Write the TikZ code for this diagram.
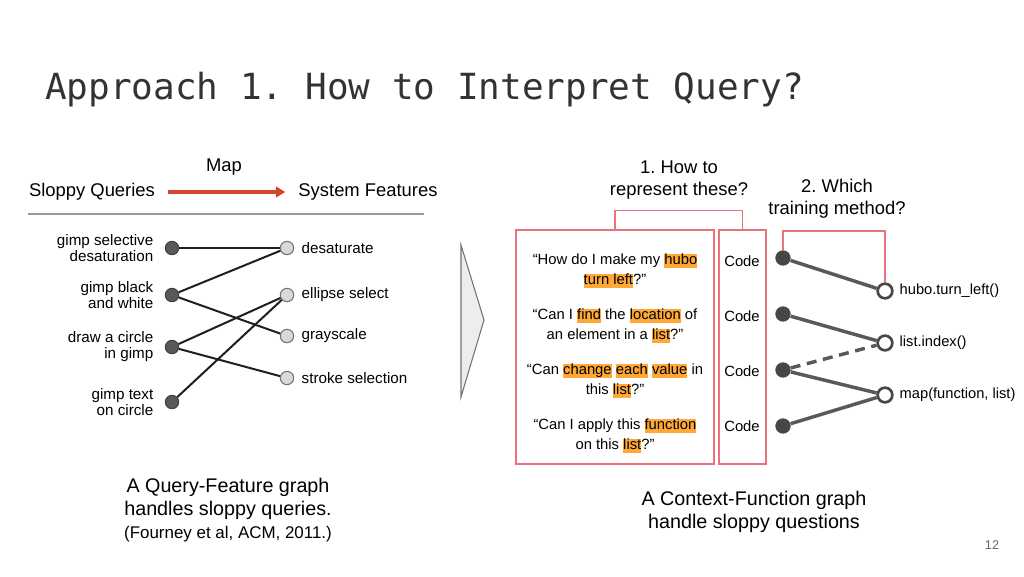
\documentclass[tikz,border=0pt]{standalone}
\usepackage{fontspec}
\setmainfont{Liberation Sans}
\newfontfamily\titlefont{DejaVu Sans Mono}
\usetikzlibrary{arrows.meta}
\frenchspacing

\definecolor{mapred}{HTML}{D2462A}
\definecolor{boxred}{HTML}{E8737C}
\definecolor{hlorange}{HTML}{FFA838}
\newcommand{\hl}[1]{{\setlength{\fboxsep}{0pt}\colorbox{hlorange}{\rule[-2.6pt]{0pt}{10.6pt}#1}}}

\tikzset{
  qdot/.style={circle,draw=black!75,fill=black!65,line width=0.8pt,minimum size=10pt,inner sep=0pt},
  fdot/.style={circle,draw=black!55,fill=black!15,line width=0.8pt,minimum size=10pt,inner sep=0pt},
  cdot/.style={circle,fill=black!72,minimum size=11.5pt,inner sep=0pt},
  odot/.style={circle,draw=black!72,fill=white,line width=2pt,minimum size=11pt,inner sep=0pt},
  qedge/.style={black!88,line width=1.5pt},
  fedge/.style={black!65,line width=2.6pt},
  redbox/.style={draw=boxred,line width=0.9pt,inner sep=0pt},
  small/.style={font=\fontsize{11.4}{12}\selectfont},
  qtext/.style={font=\fontsize{11.1}{15}\selectfont,align=center},
  head/.style={font=\fontsize{13.8}{16.5}\selectfont,align=center},
  caption/.style={font=\fontsize{14.8}{17.5}\selectfont,align=center}
}

\begin{document}
\begin{tikzpicture}[x=0.75pt,y=-0.75pt]
\useasboundingbox (0,0) rectangle (1024,576);

\node[anchor=base west,inner sep=0pt,text=black!80,font=\titlefont\fontsize{27}{30}\selectfont] (title) at (45,99) {Approach 1. How to Interpret Query?};

% left: query-feature graph
\node[head] (map) at (224,167) {Map};
\node[head] (sloppy) at (92,192) {Sloppy Queries};
\node[head] (sysfeat) at (368,192) {System Features};
\draw[mapred,line width=2.3pt,-{Triangle[length=7pt,width=8pt]}] ([xshift=6.4pt]sloppy.east) -- ([xshift=-6.4pt]sysfeat.west);
\draw[black!40,line width=0.8pt] (28,214) -- (424,214);

\node[qdot] (q1) at (172,248) {};
\node[qdot] (q2) at (172,295) {};
\node[qdot] (q3) at (172,347) {};
\node[qdot] (q4) at (172,402) {};
\node[small,anchor=east,align=right] at (158,248) {gimp selective\\desaturation};
\node[small,anchor=east,align=right] at (158,295) {gimp black\\and white};
\node[small,anchor=east,align=right] at (158,347) {draw a circle\\in gimp};
\node[small,anchor=east,align=right] at (158,402) {gimp text\\on circle};

\node[fdot] (f1) at (287,248) {};
\node[fdot] (f2) at (287,295) {};
\node[fdot] (f3) at (287,336) {};
\node[fdot] (f4) at (287,378) {};
\node[small,anchor=west] at (297,248) {desaturate};
\node[small,anchor=west] at (297,295) {ellipse select};
\node[small,anchor=west] at (297,336) {grayscale};
\node[small,anchor=west] at (297,378) {stroke selection};

\draw[qedge] (q1) -- (f1);
\draw[qedge] (q2) -- (f1);
\draw[qedge] (q2) -- (f3);
\draw[qedge] (q3) -- (f2);
\draw[qedge] (q3) -- (f4);
\draw[qedge] (q4) -- (f2);

\node[caption] (leftcap) at (228,510) {A Query-Feature graph\\handles sloppy queries.\\{\fontsize{12.7}{15}\selectfont(Fourney et al, ACM, 2011.)}};

\draw[black!55,fill=black!7,line width=0.8pt] (461,245) -- (484,320) -- (461,397) -- cycle;

% right: context-function graph
\node[redbox,minimum width=148.5pt,minimum height=175.5pt] (box1) at (615,347) {};
\node[redbox,minimum width=35.25pt,minimum height=175.5pt] (box2) at (742.5,347) {};
\node[head] (how) at (679,180) {1. How to\\represent these?};
\draw[boxred,line width=0.9pt] (box1.north) -- ++(0,-19) -| (box2.north);

\node[qtext] (t1) at (615,271) {“How do I make my \hl{hubo}\\\hl{turn left}?”};
\node[qtext] (t2) at (615,326) {“Can I \hl{find} the \hl{location} of\\an element in a \hl{list}?”};
\node[qtext] (t3) at (615,381) {“Can \hl{change} \hl{each} \hl{value} in\\this \hl{list}?”};
\node[qtext] (t4) at (615,436) {“Can I apply this \hl{function}\\on this \hl{list}?”};
\node[qtext] (c1) at (742,261) {Code};
\node[qtext] (c2) at (742,316) {Code};
\node[qtext] (c3) at (742,371) {Code};
\node[qtext] (c4) at (742,426) {Code};

\node[cdot] (d1) at (783,258) {};
\node[cdot] (d2) at (783,314) {};
\node[cdot] (d3) at (783,370) {};
\node[cdot] (d4) at (783,426) {};
\node[odot] (hubo) at (885,291) {};
\node[odot] (idx) at (885,343) {};
\node[odot] (mapf) at (885,395) {};
\node[small,anchor=west,font=\fontsize{11}{12}\selectfont] at (895,291) {hubo.turn\_left()};
\node[small,anchor=west,font=\fontsize{11}{12}\selectfont] at (895,343) {list.index()};
\node[small,anchor=west,font=\fontsize{11}{12}\selectfont] at (895,395) {map(function, list)};

\draw[fedge] (d1) -- (hubo);
\draw[fedge] (d2) -- (idx);
\draw[fedge,dash pattern=on 7.5pt off 5pt] (d3) -- (idx);
\draw[fedge] (d3) -- (mapf);
\draw[fedge] (d4) -- (mapf);

\node[head] (which) at (837,199) {2. Which\\training method?};
\draw[boxred,line width=0.9pt] (d1.north) -- ++(0,-19) -| (hubo.north);

\node[caption] (rightcap) at (754,512) {A Context-Function graph\\handle sloppy questions};
\node[text=black!60,font=\fontsize{9.5}{11}\selectfont] (page) at (992,545) {12};
\end{tikzpicture}
\end{document}
